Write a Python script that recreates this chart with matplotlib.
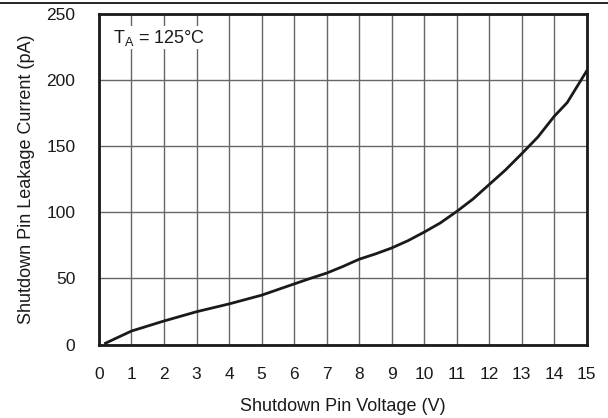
import matplotlib
matplotlib.use("Agg")
import matplotlib.pyplot as plt
from matplotlib.lines import Line2D

plt.rcParams['font.family'] = ['Liberation Sans', 'DejaVu Sans']

# Shutdown pin leakage current vs. shutdown pin voltage at TA = 125°C
voltage_v = [0.2, 1, 2, 3, 4, 5, 6, 6.5, 7, 7.5, 8, 8.5, 9, 9.5, 10, 10.5,
             11, 11.5, 12, 12.5, 13, 13.5, 14, 14.4, 15]
leakage_pa = [1, 10.2, 17.8, 24.8, 30.7, 37.3, 45.8, 50, 54, 59, 64.5, 68.5,
              73, 78.5, 85, 92, 100.6, 110, 121, 132, 144.3, 157, 172.6, 183, 207]

x_ticks = list(range(0, 16))
y_ticks = [0, 50, 100, 150, 200, 250]

fig = plt.figure(figsize=(6.08, 4.18), dpi=100)
ax = fig.add_axes([0.1628, 0.1758, 0.965 - 0.1628, 0.9665 - 0.1758])

ax.plot(voltage_v, leakage_pa, color='#1a1a1a', linewidth=2.0, zorder=3)

ax.set_xlim(0, 15)
ax.set_ylim(0, 250)
ax.set_xticks(x_ticks)
ax.set_yticks(y_ticks)
ax.grid(True, color='#666666', linewidth=1.0)
ax.set_axisbelow(True)
ax.tick_params(length=0, labelsize=12.5, colors='#1a1a1a')
ax.tick_params(axis='x', pad=16)
ax.tick_params(axis='y', pad=17)

for s in ax.spines.values():
    s.set_linewidth(2.0)
    s.set_color('#1a1a1a')

ax.set_xlabel('Shutdown Pin Voltage (V)', fontsize=13, labelpad=12, color='#1a1a1a')
ax.set_ylabel('Shutdown Pin Leakage Current (pA)', fontsize=13, labelpad=8, color='#1a1a1a')

ax.text(0.42, 232, r'T$_\mathregular{A}$ = 125°C', fontsize=13, va='center', ha='left',
        color='#1a1a1a', bbox=dict(facecolor='white', edgecolor='none', pad=1))

# rule across the top of the page
fig.add_artist(Line2D([0, 1], [1 - 3 / 418, 1 - 3 / 418], transform=fig.transFigure,
                      color='black', linewidth=1.2))

fig.savefig('out.png', dpi=100)
